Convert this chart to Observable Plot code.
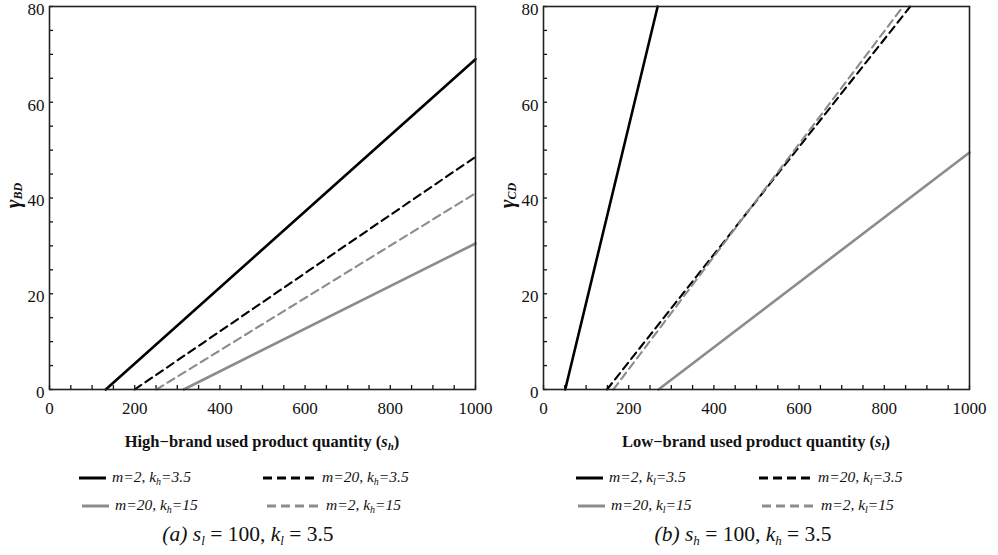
<!DOCTYPE html>
<html>
<head>
<meta charset="utf-8">
<script src="https://cdn.jsdelivr.net/npm/d3@7"></script>
<script src="https://cdn.jsdelivr.net/npm/@observablehq/plot@0.6"></script>
<style>
  html, body { margin: 0; padding: 0; background: #fff; }
  #page { position: relative; width: 998px; height: 555px; overflow: hidden; font-family: "Liberation Serif", serif; color: #111; }
  .panel { position: absolute; top: 0; }
  .ylab { position: absolute; font-weight: bold; font-style: italic; font-size: 21px; transform: rotate(-90deg); transform-origin: center; white-space: nowrap; }
  .ylab sub { font-size: 12px; vertical-align: -2px; }
  .xlab { position: absolute; font-weight: bold; font-size: 16.5px; white-space: nowrap; transform: translateX(-50%); }
  .xlab sub { font-size: 11px; vertical-align: -3px; font-style: italic; }
  .leg { position: absolute; font-style: italic; font-size: 15.5px; white-space: nowrap; display: flex; align-items: center; }
  .leg sub { font-size: 10px; vertical-align: -3px; }
  .leg svg { margin-right: 6px; }
  .cap { position: absolute; font-size: 21.5px; white-space: nowrap; transform: translateX(-50%); }
  .cap sub { font-size: 13px; vertical-align: -4px; font-style: italic; }
</style>
</head>
<body>
<div id="page"></div>
<script>
// Each line is straight, so it is given by the quantity where the threshold is zero
// and the point where it leaves the plot (right edge or top edge).
const seriesKeys = ["m2_k35", "m20_k35", "m20_k15", "m2_k15"];

// Panel (a): γ_BD against high-brand used product quantity s_h (s_l = 100, k_l = 3.5)
const aStartX = [132, 200, 315, 251];
const aEndX = [1000, 1000, 1000, 1000];
const aEndY = [69, 48.6, 30.5, 41];

// Panel (b): γ_CD against low-brand used product quantity s_l (s_h = 100, k_h = 3.5)
const bStartX = [51, 149, 270, 164];
const bEndX = [268, 861, 1000, 844];
const bEndY = [80, 80, 49.5, 80];

const xTicks = [0, 200, 400, 600, 800, 1000];
const yTicks = [0, 20, 40, 60, 80];

const styles = {
  m2_k35: {stroke: "#000", strokeWidth: 2.6, dash: null},
  m20_k35: {stroke: "#000", strokeWidth: 2.1, dash: "8,5"},
  m20_k15: {stroke: "#8c8c8c", strokeWidth: 2.6, dash: null},
  m2_k15: {stroke: "#8c8c8c", strokeWidth: 2.1, dash: "8,5"}
};

function rows(startX, endX, endY) {
  return seriesKeys.flatMap((k, i) => [
    {series: k, q: startX[i], g: 0},
    {series: k, q: endX[i], g: endY[i]}
  ]);
}

const tickFont = {fontFamily: "Liberation Serif", fontSize: 17};

function panel(data) {
  return Plot.plot({
    width: 499,
    height: 420,
    marginTop: 6,
    marginBottom: 31,
    marginLeft: 49,
    marginRight: 24,
    x: {domain: [0, 1000], label: null},
    y: {domain: [0, 80], label: null},
    style: "font-family: 'Liberation Serif', serif; font-size: 17px; color: #111; background: transparent; overflow: visible;",
    marks: [
      Plot.axisX({ticks: d3.range(0, 1001, 50), tickSize: -4, tickFormat: () => "", label: null, strokeWidth: 1.3}),
      Plot.axisX({ticks: xTicks, tickSize: 0, tickPadding: 12, tickFormat: d3.format("d"), label: null, ...tickFont}),
      Plot.axisY({ticks: d3.range(0, 81, 5), tickSize: -4, tickFormat: () => "", label: null, strokeWidth: 1.3}),
      Plot.axisY({ticks: yTicks, tickSize: 0, tickPadding: 5, dy: 3, tickFormat: d3.format("d"), label: null, ...tickFont}),
      ...seriesKeys.map(k => Plot.line(data.filter(d => d.series === k), {
        x: "q", y: "g",
        stroke: styles[k].stroke,
        strokeWidth: styles[k].strokeWidth,
        strokeDasharray: styles[k].dash
      })),
      Plot.frame({stroke: "#222", strokeWidth: 1.6})
    ]
  });
}

const page = document.getElementById("page");

function swatch(k, len) {
  const s = styles[k];
  return `<svg width="${len}" height="6"><line x1="0" y1="3" x2="${len}" y2="3" stroke="${s.stroke}" stroke-width="3" ${s.dash ? 'stroke-dasharray="9,5"' : ""}/></svg>`;
}

function addPanel(left, data, ySub, xText, xSub, kSub, capHtml, legendPos, capX) {
  const div = document.createElement("div");
  div.className = "panel";
  div.style.left = left + "px";
  div.appendChild(panel(data));
  page.appendChild(div);

  const yl = document.createElement("div");
  yl.className = "ylab";
  yl.innerHTML = `γ<sub>${ySub}</sub>`;
  page.appendChild(yl);
  yl.style.left = (left + 13 - yl.offsetWidth / 2) + "px";
  yl.style.top = (195 - yl.offsetHeight / 2) + "px";

  const xl = document.createElement("div");
  xl.className = "xlab";
  xl.innerHTML = `${xText} (<i>s</i><sub>${xSub}</sub>)`;
  xl.style.left = (left + 262) + "px";
  xl.style.top = "432px";
  page.appendChild(xl);

  const labels = [
    `<i>m</i>=2, <i>k</i><sub>${kSub}</sub>=3.5`,
    `<i>m</i>=20, <i>k</i><sub>${kSub}</sub>=3.5`,
    `<i>m</i>=20, <i>k</i><sub>${kSub}</sub>=15`,
    `<i>m</i>=2, <i>k</i><sub>${kSub}</sub>=15`
  ];
  seriesKeys.forEach((k, i) => {
    const lg = document.createElement("div");
    lg.className = "leg";
    const dashed = !!styles[k].dash;
    lg.innerHTML = swatch(k, dashed ? 53 : 27) + `<span>${labels[i]}</span>`;
    lg.style.left = (left + legendPos[i][0]) + "px";
    lg.style.top = legendPos[i][1] + "px";
    page.appendChild(lg);
  });

  const cp = document.createElement("div");
  cp.className = "cap";
  cp.innerHTML = capHtml;
  cp.style.left = (left + capX) + "px";
  cp.style.top = "522px";
  page.appendChild(cp);
}

addPanel(0, rows(aStartX, aEndX, aEndY), "BD", "High\u2212brand used product quantity", "h", "h",
  `<i>(a) s</i><sub>l</sub> = 100, <i>k</i><sub>l</sub> = 3.5`,
  [[79, 468], [263, 468], [82, 496], [267, 496]], 248);

addPanel(494, rows(bStartX, bEndX, bEndY), "CD", "Low\u2212brand used product quantity", "l", "l",
  `<i>(b) s</i><sub>h</sub> = 100, <i>k</i><sub>h</sub> = 3.5`,
  [[82, 468], [265, 468], [84, 496], [268, 496]], 249);
</script>
</body>
</html>
